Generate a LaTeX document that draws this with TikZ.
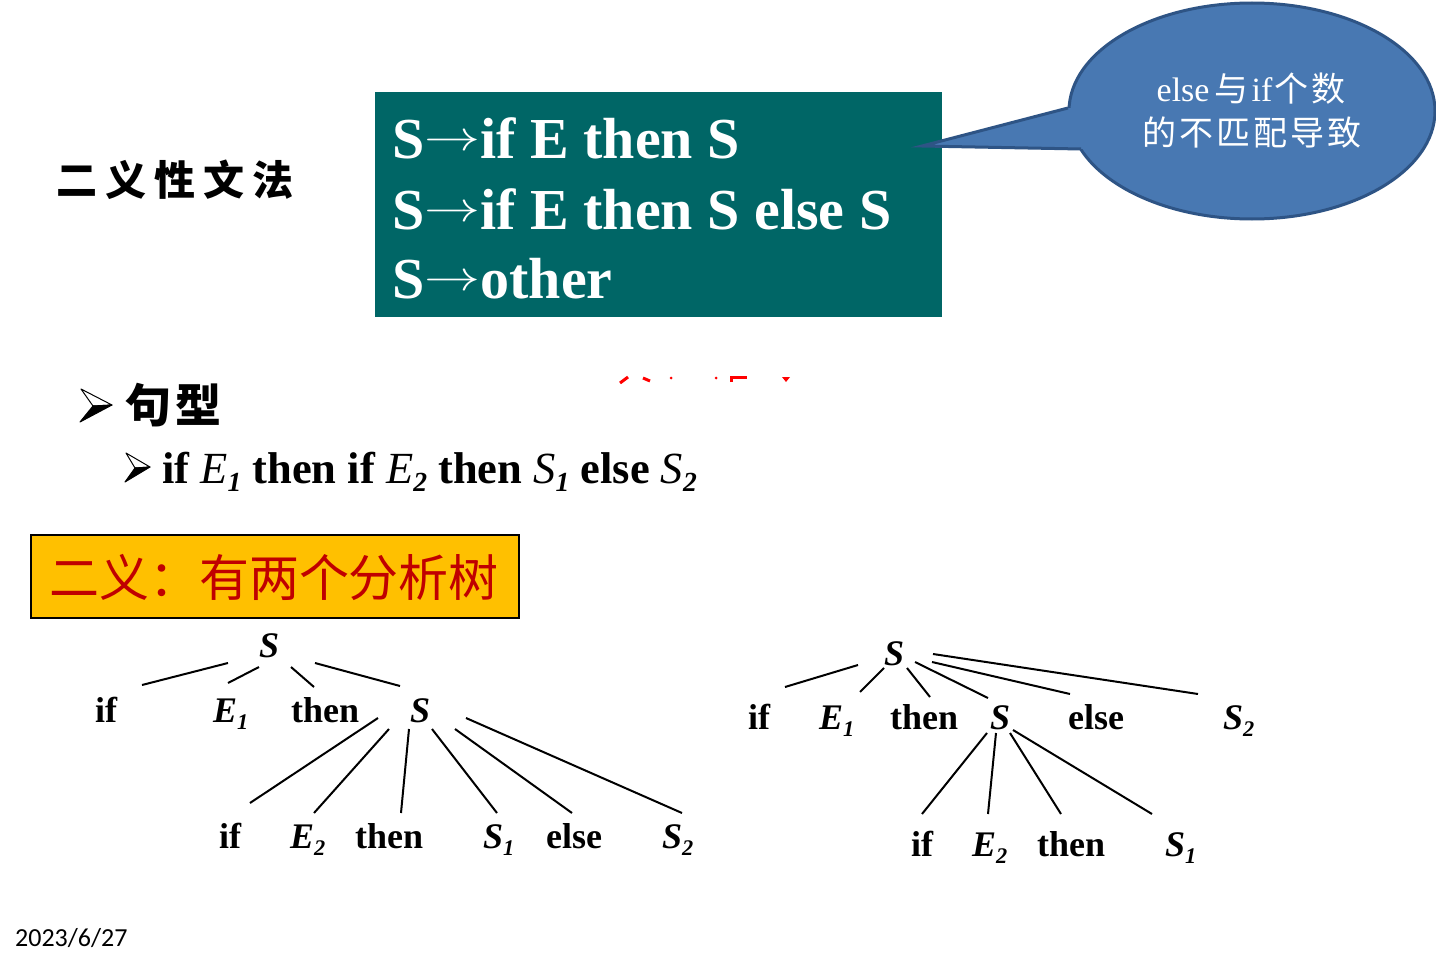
\documentclass[tikz,border=0pt]{standalone}
\usepackage{fontspec}
\setmainfont{Liberation Serif}
\newfontfamily\cjk{Noto Sans CJK SC}
\newfontfamily\carlito{Carlito}
\usetikzlibrary{shapes.geometric}
\definecolor{grn}{HTML}{006666}
\definecolor{cfill}{HTML}{4878B2}
\definecolor{cbord}{HTML}{2E5485}
\definecolor{ylw}{HTML}{FFC000}
\definecolor{rtxt}{HTML}{C00000}
\newcommand\lidx[1]{\raisebox{-0.2em}{\scalebox{0.62}{\itshape #1}}}
\newcommand\tedge[4]{\draw[tline] ([shift={(#2)}]#1.base west) -- ([shift={(#4)}]#3.base west);}
\newcommand\arr{{\fontsize{10}{10}\selectfont\raisebox{8pt}{\scalebox{5.6}[4.2]{\(\rightarrow\)}}}}
\begin{document}
\begin{tikzpicture}[x=1pt,y=-1pt,
  tl/.style={anchor=base west, inner sep=0, font=\fontsize{36}{36}\selectfont\bfseries},
  tline/.style={line width=2pt, black},
  gline/.style={anchor=base west, inner sep=0, text=white, font=\fontsize{58}{58}\selectfont\bfseries},
  ctext/.style={anchor=base, inner sep=0, text=white, font=\fontsize{34}{34}\selectfont},
  bulw/.style={fill=white, draw=black, line width=1pt, line join=round},
  bulb/.style={fill=black, draw=black, line width=1pt, line join=round}]
\useasboundingbox (0,0) rectangle (1436,966);
\fill[white] (0,0) rectangle (1436,966);

% title
\node[anchor=west, inner sep=0, font=\cjk\bfseries\fontsize{41}{41}\selectfont] (title) at (56,180)
  {二\hspace{8pt}义\hspace{8pt}性\hspace{8pt}文\hspace{8pt}法};

% grammar box
\node[fill=grn, anchor=north west, minimum width=567pt, minimum height=225pt, inner sep=0] (gram) at (375,92) {};
\node[gline] (g1) at (392,158) {S\arr if E then S};
\node[gline] (g2) at (392,229) {S\arr if E then S else S};
\node[gline] (g3) at (392,298) {S\arr other};

% callout
\coordinate (tip) at (922,146);
\node[ellipse, draw=cbord, fill=cfill, line width=3pt, minimum width=366pt, minimum height=216pt, inner sep=0] (call) at (1252,111) {};
\fill[cfill] (tip) -- (1068,108) -- (1110,111) -- (1110,148) -- (1081,149) -- cycle;
\draw[cbord, line width=3pt, line join=miter] (1068,108) -- (tip) -- (1081,149);
\node[ctext] (c1) at (1251,102) {else\hspace{5pt}{\cjk 与}\hspace{3pt}if\hspace{2pt}{\cjk 个\hspace{3pt}数}};
\node[ctext] (c2) at (1252,146) {\cjk 的\hspace{3pt}不\hspace{3pt}匹\hspace{3pt}配\hspace{3pt}导\hspace{3pt}致};

% red fragments
\begin{scope}[red, line width=3pt]
\draw (620,383) -- (628,377);
\draw (643,378) -- (650,381);
\fill (671,378) circle (1.5);
\fill (716,378) circle (1.5);
\draw (730,377) -- (747,377);
\draw (731,377) -- (731,382);
\fill (782,377) -- (790,377) -- (786,382) -- cycle;
\end{scope}

% sentence forms
\coordinate (b1tip) at (112,405);
\draw[bulw] (81,389) -- (b1tip) -- (93,406) -- cycle;
\draw[bulb] (93,406) -- (b1tip) -- (80,422) -- cycle;
\node[anchor=west, inner sep=0, font=\cjk\bfseries\fontsize{46}{46}\selectfont] (jx) at (125,405) {句\hspace{4pt}型};
\coordinate (b2tip) at (150,467);
\draw[bulw] (126,453) -- (b2tip) -- (135,468) -- cycle;
\draw[bulb] (135,468) -- (b2tip) -- (125,482) -- cycle;
\node[anchor=base west, inner sep=0, font=\fontsize{44.5}{44.5}\selectfont\bfseries] (sent) at (162,483)
  {if {\mdseries\itshape E}\lidx{1} then if {\mdseries\itshape E}\lidx{2} then {\mdseries\itshape S}\lidx{1} else {\mdseries\itshape S}\lidx{2}};

% ambiguity box
\node[draw=black, line width=2pt, fill=ylw, anchor=north west, minimum width=488pt, minimum height=83pt, inner sep=0] (amb) at (30,534) {};
\node[inner sep=0, text=rtxt, font=\cjk\fontsize{50}{50}\selectfont] (ambt) at (274,577) {二义：有两个分析树};

% tree 1
\node[tl] (r1) at (259,657) {\itshape S};
\node[tl] (aif) at (95,722) {if};
\node[tl] (aE) at (213,722) {\itshape E\lidx{1}};
\node[tl] (athen) at (291,722) {then};
\node[tl] (aS) at (410,722) {\itshape S};
\node[tl] (bif) at (219,848) {if};
\node[tl] (bE) at (290,848) {\itshape E\lidx{2}};
\node[tl] (bthen) at (355,848) {then};
\node[tl] (bS1) at (483,848) {\itshape S\lidx{1}};
\node[tl] (belse) at (546,848) {else};
\node[tl] (bS2) at (662,848) {\itshape S\lidx{2}};
\tedge{r1}{-31,6}{aif}{47,-37}
\tedge{r1}{0,10}{aE}{15,-39}
\tedge{r1}{32,10}{athen}{23,-35}
\tedge{r1}{56,6}{aS}{-10,-36}
\tedge{aS}{-32,-4}{bif}{31,-45}
\tedge{aS}{-21,7}{bE}{24,-35}
\tedge{aS}{-1,7}{bthen}{46,-35}
\tedge{aS}{22,7}{bS1}{14,-35}
\tedge{aS}{45,7}{belse}{26,-35}
\tedge{aS}{56,-4}{bS2}{20,-35}

% tree 2
\node[tl] (r2) at (884,665) {\itshape S};
\node[tl] (cif) at (748,729) {if};
\node[tl] (cE) at (819,729) {\itshape E\lidx{1}};
\node[tl] (cthen) at (890,729) {then};
\node[tl] (cS) at (990,729) {\itshape S};
\node[tl] (celse) at (1068,729) {else};
\node[tl] (cS2) at (1223,729) {\itshape S\lidx{2}};
\node[tl] (dif) at (911,856) {if};
\node[tl] (dE) at (972,856) {\itshape E\lidx{2}};
\node[tl] (dthen) at (1037,856) {then};
\node[tl] (dS1) at (1165,856) {\itshape S\lidx{1}};
\tedge{r2}{-26,0}{cif}{37,-42}
\tedge{r2}{0,3}{cE}{41,-37}
\tedge{r2}{23,3}{cthen}{40,-32}
\tedge{r2}{31,-3}{cS}{-2,-31}
\tedge{r2}{48,-3}{celse}{2,-35}
\tedge{r2}{49,-11}{cS2}{-25,-35}
\tedge{cS}{-3,4}{dif}{11,-42}
\tedge{cS}{6,4}{dE}{16,-42}
\tedge{cS}{20,4}{dthen}{24,-42}
\tedge{cS}{23,1}{dS1}{-13,-42}

% date
\node[anchor=base west, inner sep=0, font=\carlito\fontsize{26}{26}\selectfont] (date) at (15,946) {2023/6/27};
\end{tikzpicture}
\end{document}
